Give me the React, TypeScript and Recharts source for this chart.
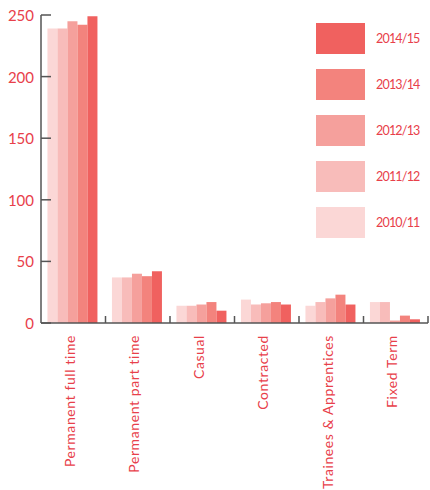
import React from 'react';
import { BarChart, Bar, XAxis, YAxis, Legend } from 'recharts';

const categories = ['Permanent full time', 'Permanent part time', 'Casual', 'Contracted', 'Trainees & Apprentices', 'Fixed Term'];
const y2010 = [239, 37, 14, 19, 14, 17];
const y2011 = [239, 37, 14, 15, 17, 17];
const y2012 = [245, 40, 15, 16, 20, 2];
const y2013 = [242, 38, 17, 17, 23, 6];
const y2014 = [249, 42, 10, 15, 15, 3];
const yTicks = [0, 50, 100, 150, 200, 250];

const seriesNames = ['2010/11', '2011/12', '2012/13', '2013/14', '2014/15'];
const seriesColors = ['#fbd7d6', '#f8bcba', '#f5a09c', '#f3837d', '#f0615f'];
const seriesValues = [y2010, y2011, y2012, y2013, y2014];

const data = categories.map((c, i) => {
  const row: Record<string, any> = { name: c };
  seriesNames.forEach((s, k) => { row[s] = seriesValues[k][i]; });
  return row;
});

const W = 430;
const H = 490;
const LEFT = 41;
const RIGHT = 2;
const BAND = (W - LEFT - RIGHT) / categories.length;
const RED = '#e8404a';
const AXIS = '#555';
const FONT = 'Lato, "Open Sans", sans-serif';

const YTick = (props: any) => {
  const { x, y, payload } = props;
  return (
    <g>
      <line x1={x} x2={x + 10} y1={y} y2={y} stroke={AXIS} strokeWidth={1.5} />
      <text x={x - 7} y={y} textAnchor="end" dominantBaseline="central" fill={RED} fontSize={15} fontFamily={FONT}>
        {payload.value}
      </text>
    </g>
  );
};

const XTick = (props: any) => {
  const { x, y, payload } = props;
  const tx = x - 4;
  const ty = y + 12;
  return (
    <g>
      <line x1={x + BAND / 2} x2={x + BAND / 2} y1={y} y2={y - 7} stroke={AXIS} strokeWidth={1.5} />
      <text
        x={tx}
        y={ty}
        transform={`rotate(-90 ${tx} ${ty})`}
        textAnchor="end"
        dominantBaseline="central"
        fill={RED}
        fontSize={14}
        letterSpacing={0.6}
        fontFamily={FONT}
      >
        {payload.value}
      </text>
    </g>
  );
};

const LegendContent = (props: any) => {
  const items = [...(props.payload || [])].reverse();
  return (
    <div style={{ fontFamily: FONT }}>
      {items.map((it: any) => (
        <div key={it.value} style={{ display: 'flex', alignItems: 'center', height: 31, marginBottom: 15 }}>
          <div style={{ width: 49, height: 31, background: it.color }} />
          <span style={{ marginLeft: 11, color: RED, fontSize: 12.5, letterSpacing: -0.8 }}>{it.value}</span>
        </div>
      ))}
    </div>
  );
};

export default function App() {
  return (
    <div style={{ position: 'absolute', left: 0, top: 0, background: '#fff' }}>
      <BarChart
        width={W}
        height={H}
        data={data}
        margin={{ top: 15, right: RIGHT, left: 0, bottom: 7 }}
        barCategoryGap="10%"
        barGap={0}
      >
        <XAxis
          dataKey="name"
          interval={0}
          height={160}
          tickSize={0}
          tickMargin={0}
          tick={<XTick />}
          axisLine={{ stroke: AXIS, strokeWidth: 1.5 }}
          tickLine={false}
        />
        <YAxis
          width={LEFT}
          domain={[0, 250]}
          ticks={yTicks}
          tickSize={0}
          tickMargin={0}
          tick={<YTick />}
          axisLine={{ stroke: AXIS, strokeWidth: 1.5 }}
          tickLine={false}
        />
        <Legend
          verticalAlign="middle"
          align="center"
          layout="vertical"
          content={<LegendContent />}
          wrapperStyle={{ position: 'absolute', top: 23, left: 316, width: 110, height: 230 }}
        />
        {seriesNames.map((s, k) => (
          <Bar key={s} dataKey={s} name={s} fill={seriesColors[k]} isAnimationActive={false} />
        ))}
      </BarChart>
    </div>
  );
}
